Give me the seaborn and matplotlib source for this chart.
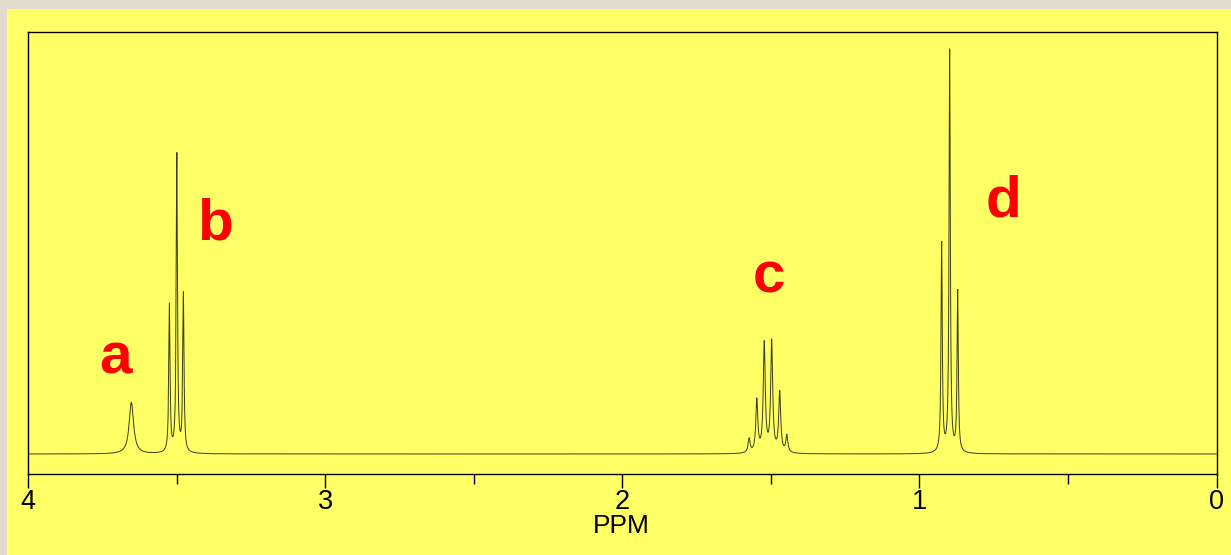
import numpy as np
import pandas as pd
import matplotlib
matplotlib.use("Agg")
import matplotlib.pyplot as plt
from matplotlib.patches import Rectangle
from matplotlib.ticker import MultipleLocator
import seaborn as sns

# ---- data: peaks ----
peak_ppm = [3.652, 3.524, 3.499, 3.477,
            1.573, 1.547, 1.522, 1.497, 1.470, 1.446,
            0.925, 0.898, 0.871]
peak_height = [12.8, 36.6, 74.1, 39.3,
               3.5, 13.0, 27.1, 27.5, 14.9, 4.3,
               52.0, 100.0, 40.0]
peak_hwhm = [0.009, 0.0025, 0.0025, 0.0025,
             0.004, 0.004, 0.004, 0.004, 0.004, 0.004,
             0.0025, 0.0025, 0.0025]
group_labels = ["a", "b", "c", "d"]
label_ppm = [3.707, 3.370, 1.505, 0.717]
label_height = [20.1, 53.4, 40.1, 59.0]
tick_values = [4, 3, 2, 1, 0]
tick_labels = ["4", "3", "2", "1", "0"]
x_title = "PPM"

# ---- build spectrum from the peak list (Lorentzian line shapes) ----
ppm = np.linspace(0, 4, 24000)
intensity = np.zeros_like(ppm)
for p, h, w in zip(peak_ppm, peak_height, peak_hwhm):
    intensity += h * w**2 / ((ppm - p) ** 2 + w**2)
df = pd.DataFrame({"ppm": ppm, "intensity": intensity})

sns.set_style("ticks")
plt.rcParams["font.family"] = ["Liberation Sans", "DejaVu Sans"]
plt.rcParams["text.color"] = "black"
plt.rcParams["axes.labelcolor"] = "black"

W, H = 1231, 555
fig = plt.figure(figsize=(W / 100, H / 100), dpi=100)
fig.patch.set_facecolor("#e2dbcc")
fig.patches.append(Rectangle((7 / W, 0), 1 - 7 / W, 1 - 9 / H,
                             transform=fig.transFigure, facecolor="#ffff66",
                             edgecolor="none", zorder=-10))

left, right, top, bottom = 28, 1216.5, 32, 474
ax = fig.add_axes([left / W, 1 - bottom / H, (right - left) / W, (bottom - top) / H])
ax.set_zorder(5)
ax.set_facecolor("#ffff66")

sns.lineplot(data=df, x="ppm", y="intensity", ax=ax, color="#3c3c1c",
             linewidth=0.7, estimator=None, sort=False)

ax.set_xlim(4, 0)
ax.set_ylim(-20 / 4.02, (454 - 32) / 4.02)
ax.set_yticks([])
ax.set_ylabel("")
ax.set_xticks(tick_values)
ax.set_xticklabels(tick_labels)
ax.xaxis.set_minor_locator(MultipleLocator(0.5))
ax.tick_params(axis="x", which="major", direction="out", length=10, width=1.0,
               pad=0.5, labelsize=19.5, colors="black", labelcolor="black")
ax.tick_params(axis="x", which="minor", direction="out", length=7.2, width=1.0,
               colors="black")
for s in ax.spines.values():
    s.set_visible(True)
    s.set_linewidth(1.0)
    s.set_color("black")

ax.set_xlabel(x_title, fontsize=19, color="black")
ax.xaxis.label.set_va("baseline")
ax.xaxis.set_label_coords(0.4995, (474 - 533) / 442)

for lab, xp, yp in zip(group_labels, label_ppm, label_height):
    ax.text(xp, yp, lab, color="#ff0000", fontsize=42, fontweight="bold",
            ha="center", va="baseline")

fig.savefig("out.png", dpi=100, facecolor=fig.get_facecolor())
